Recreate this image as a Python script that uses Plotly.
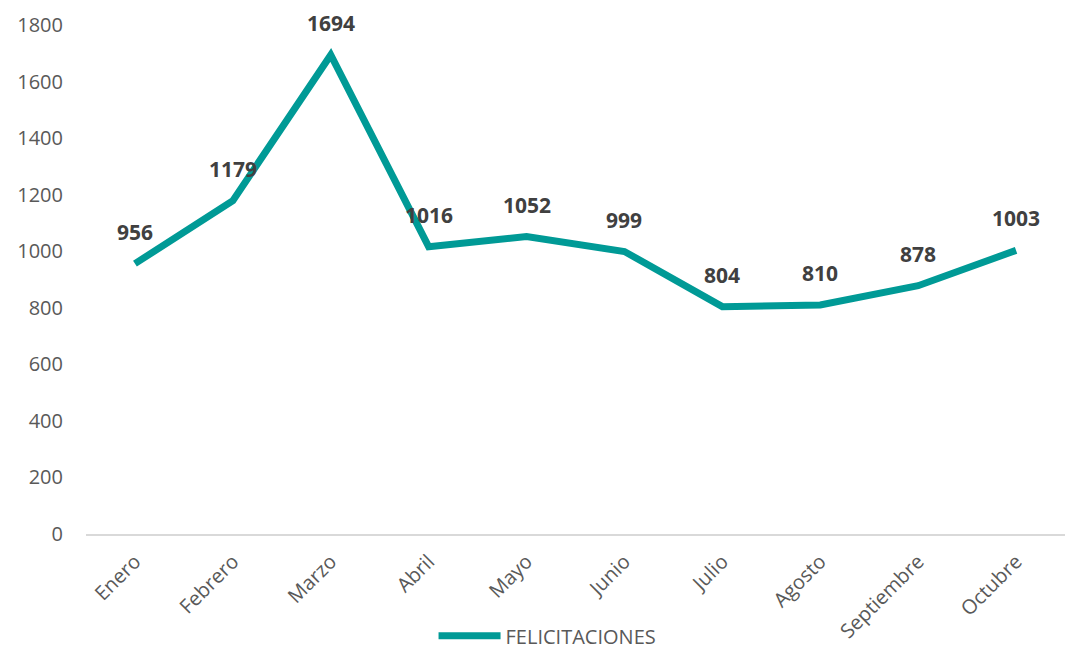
import plotly.graph_objects as go

meses = ["Enero", "Febrero", "Marzo", "Abril", "Mayo", "Junio", "Julio", "Agosto", "Septiembre", "Octubre"]
felicitaciones = [956, 1179, 1694, 1016, 1052, 999, 804, 810, 878, 1003]
y_ticks = [0, 200, 400, 600, 800, 1000, 1200, 1400, 1600, 1800]

TEAL = "#009a96"
FONT = "Open Sans, Calibri, Lato, sans-serif"

fig = go.Figure()
fig.add_trace(go.Scatter(
    x=meses, y=felicitaciones, mode="lines", name="FELICITACIONES",
    line=dict(color=TEAL, width=7), showlegend=True,
))

for m, v in zip(meses, felicitaciones):
    fig.add_annotation(x=m, y=v, text=f"<b>{v}</b>", showarrow=False,
                       yshift=32, font=dict(family=FONT, size=21, color="#404040"))

fig.update_layout(
    width=1070, height=652,
    margin=dict(l=86, r=5, t=25, b=118, autoexpand=False),
    paper_bgcolor="white", plot_bgcolor="white",
    font=dict(family=FONT, size=20, color="#595959"),
    showlegend=True,
    legend=dict(orientation="h", x=0.355, xanchor="left", y=-0.2, yanchor="middle",
                itemwidth=62, bgcolor="rgba(0,0,0,0)",
                font=dict(family=FONT, size=20, color="#595959")),
    xaxis=dict(type="category", range=[-0.5, 9.5], showgrid=False, zeroline=False,
               showline=True, linecolor="#d9d9d9", linewidth=2, automargin=False,
               tickangle=-45, ticks="", ticklabelstandoff=6,
               tickfont=dict(size=20, color="#595959")),
    yaxis=dict(range=[0, 1800], tickvals=y_ticks, showgrid=False, zeroline=False,
               showline=False, ticks="", ticklabelstandoff=22, automargin=False,
               tickfont=dict(size=20, color="#595959")),
)

fig.write_html("out.html", config={"displayModeBar": False},
               post_script="document.body.style.margin='0';")
